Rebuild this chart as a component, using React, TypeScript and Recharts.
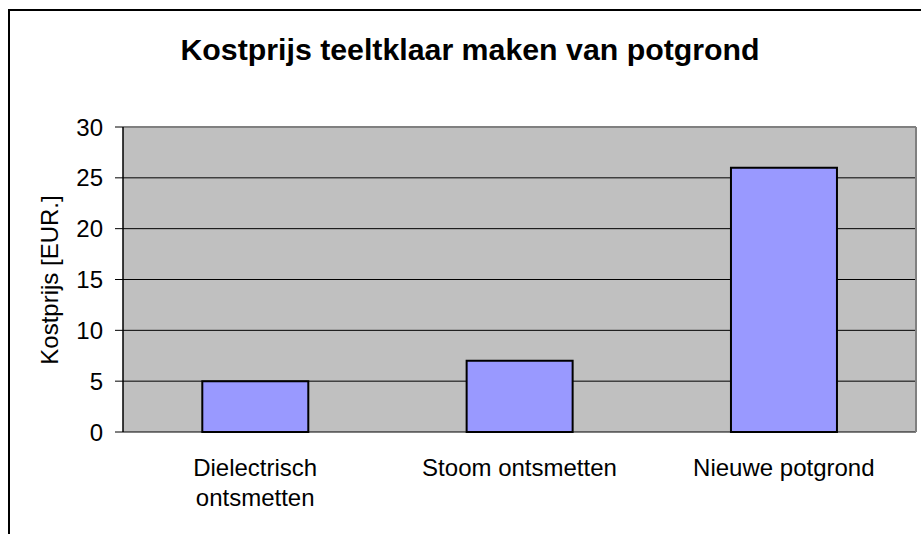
import React from 'react';
import { BarChart, Bar, XAxis, YAxis, CartesianGrid, ReferenceLine } from 'recharts';

const categories = ['Dielectrisch\nontsmetten', 'Stoom ontsmetten', 'Nieuwe potgrond'];
const costValues = [5, 7, 26];
const yTicks = [0, 5, 10, 15, 20, 25, 30];
const boundaryTicks = [0, 1, 2, 3];
const titleText = 'Kostprijs teeltklaar maken van potgrond';
const yLabelText = 'Kostprijs [EUR.]';

const data = categories.map((c, i) => ({ name: c, value: costValues[i], pos: i + 0.5 }));

const FONT = '"Liberation Sans", Arial, sans-serif';

const CatTick = (props: any) => {
  const { x, y, payload } = props;
  const lines = String(payload.value).split('\n');
  return (
    <text x={x} y={y} textAnchor="middle" fontSize={24} fill="#000" fontFamily={FONT}>
      {lines.map((l: string, i: number) => (
        <tspan key={i} x={x} dy={i === 0 ? 36 : 30}>
          {l}
        </tspan>
      ))}
    </text>
  );
};

export default function App() {
  return (
    <div style={{ position: 'absolute', left: 0, top: 0, width: 921, height: 534, overflow: 'hidden', background: '#fff' }}>
      <div
        style={{
          position: 'absolute',
          left: 8,
          top: 9,
          width: 2000,
          height: 2000,
          borderLeft: '2px solid #000',
          borderTop: '2px solid #000',
        }}
      />
      <div style={{ position: 'absolute', left: 0, top: 0 }}>
        <BarChart
          width={921}
          height={534}
          data={data}
          margin={{ top: 127, right: 0, left: 0, bottom: 0 }}
          barCategoryGap="30%"
        >
          <CartesianGrid vertical={false} fill="#C0C0C0" stroke="#000" strokeWidth={1} />
          <XAxis
            xAxisId="b"
            type="number"
            dataKey="pos"
            domain={[0, 3]}
            ticks={boundaryTicks}
            height={0}
            tickSize={7}
            tickFormatter={() => ''}
            axisLine={{ stroke: '#000', strokeWidth: 1.5 }}
            tickLine={{ stroke: '#000', strokeWidth: 1 }}
            allowDataOverflow
          />
          <XAxis
            dataKey="name"
            height={102}
            interval={0}
            axisLine={false}
            tickLine={false}
            tick={<CatTick />}
          />
          <YAxis
            domain={[0, 30]}
            ticks={yTicks}
            width={123}
            tickSize={8}
            tickMargin={12}
            interval={0}
            axisLine={{ stroke: '#000', strokeWidth: 1.5 }}
            tickLine={{ stroke: '#000', strokeWidth: 1 }}
            tick={{ fill: '#000', fontSize: 24, fontFamily: FONT }}
          />
          <YAxis
            yAxisId="r"
            orientation="right"
            domain={[0, 30]}
            width={5}
            tick={false}
            tickLine={false}
            axisLine={{ stroke: '#808080', strokeWidth: 2 }}
          />
          <ReferenceLine y={30} stroke="#808080" strokeWidth={2} />
          <Bar dataKey="value" fill="#9999FF" stroke="#000" strokeWidth={2} isAnimationActive={false} />
          <text x={470} y={60} textAnchor="middle" fontSize={30.3} fontWeight="bold" fill="#000" fontFamily={FONT}>
            {titleText}
          </text>
          <text
            transform="translate(58, 280) rotate(-90)"
            x={0}
            y={0}
            textAnchor="middle"
            fontSize={24}
            fill="#000"
            fontFamily={FONT}
          >
            {yLabelText}
          </text>
        </BarChart>
      </div>
    </div>
  );
}
